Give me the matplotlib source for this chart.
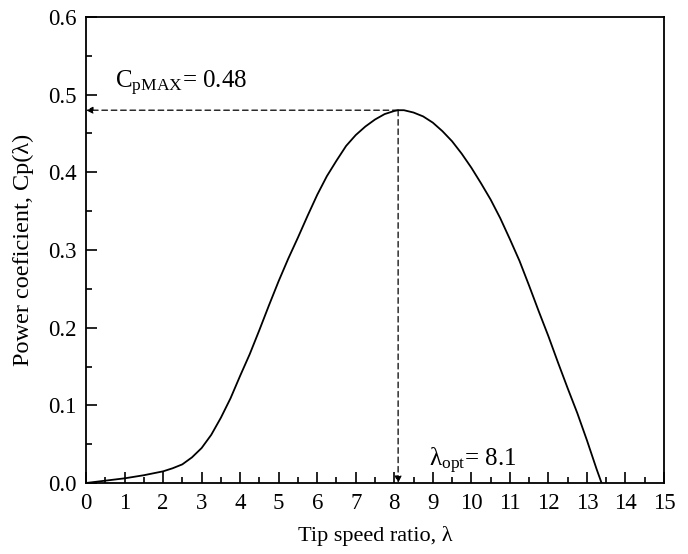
import numpy as np
import matplotlib
matplotlib.use('Agg')
import matplotlib.pyplot as plt
from matplotlib.ticker import MultipleLocator, FormatStrFormatter

plt.rcParams['font.family'] = ['Liberation Serif', 'DejaVu Serif']
plt.rcParams['mathtext.fontset'] = 'custom'
plt.rcParams['mathtext.rm'] = 'Liberation Serif'
plt.rcParams['mathtext.it'] = 'Liberation Serif'

# Cp-lambda curve
tsr = [0.0, 0.5, 1.0, 1.5, 2.0, 2.25, 2.5, 2.75, 3.0, 3.25, 3.5, 3.75, 4.0,
       4.25, 4.5, 4.75, 5.0, 5.25, 5.5, 5.75, 6.0, 6.25, 6.5, 6.75, 7.0, 7.25,
       7.5, 7.75, 8.0, 8.1, 8.25, 8.5, 8.75, 9.0, 9.25, 9.5, 9.75, 10.0, 10.25,
       10.5, 10.75, 11.0, 11.25, 11.5, 11.75, 12.0, 12.25, 12.5, 12.75, 13.0,
       13.25, 13.38]
cp = [0.0, 0.003, 0.006, 0.010, 0.015, 0.019, 0.024, 0.033, 0.045, 0.062,
      0.084, 0.109, 0.138, 0.166, 0.197, 0.229, 0.260, 0.289, 0.316, 0.344,
      0.371, 0.395, 0.415, 0.434, 0.448, 0.459, 0.468, 0.475, 0.479, 0.480,
      0.480, 0.477, 0.472, 0.464, 0.453, 0.440, 0.424, 0.406, 0.386, 0.365,
      0.341, 0.314, 0.286, 0.254, 0.221, 0.189, 0.155, 0.122, 0.090, 0.055,
      0.018, 0.0]
cp_max = 0.48
tsr_opt = 8.1

fig = plt.figure(figsize=(6.88, 5.54), dpi=100)
ax = fig.add_axes([86 / 688, 1 - 483 / 554, 578 / 688, 466 / 554])

ax.plot(tsr, cp, color='black', lw=1.3, solid_joinstyle='round')

# dashed arrows down to the axes
arrow = dict(arrowstyle='-|>', linestyle=(0, (4.5, 3)), color='black',
             lw=0.9, shrinkA=0, shrinkB=0, mutation_scale=10)
ax.annotate('', xy=(0, cp_max), xytext=(tsr_opt, cp_max), arrowprops=arrow)
ax.annotate('', xy=(tsr_opt, 0), xytext=(tsr_opt, cp_max), arrowprops=arrow)

ax.text(0.75, 0.515, r'C$_{\mathrm{pMAX}}$= 0.48', fontsize=18, va='center')
ax.text(8.9, 0.028, r'λ$_{\mathrm{opt}}$= 8.1', fontsize=18, va='center')

ax.set_xlim(0, 15)
ax.set_ylim(0, 0.6)
ax.xaxis.set_major_locator(MultipleLocator(1))
ax.xaxis.set_minor_locator(MultipleLocator(0.5))
ax.yaxis.set_major_locator(MultipleLocator(0.1))
ax.yaxis.set_minor_locator(MultipleLocator(0.05))
ax.yaxis.set_major_formatter(FormatStrFormatter('%.1f'))
ax.tick_params(which='both', direction='in', top=False, right=False, width=1.2,
               labelsize=16.5)
ax.tick_params(which='major', length=8, pad=7)
ax.tick_params(which='minor', length=4)
for s in ax.spines.values():
    s.set_linewidth(1.3)

ax.set_xlabel('Tip speed ratio, λ', fontsize=16, labelpad=9)
ax.set_ylabel('Power coeficient, Cp(λ)', fontsize=17.5, labelpad=10)

fig.savefig('out.png', dpi=100)
